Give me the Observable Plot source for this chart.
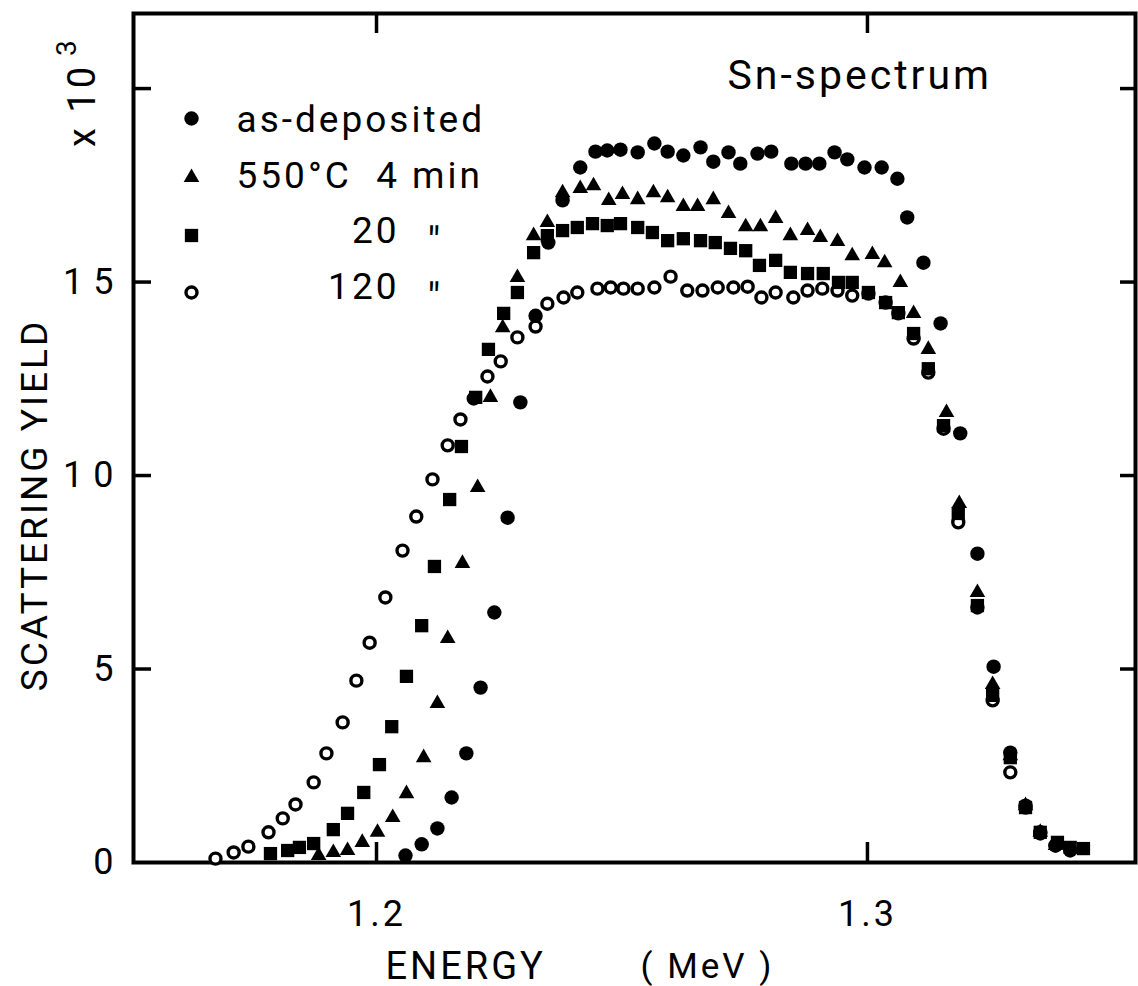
<!DOCTYPE html>
<html><head><meta charset="utf-8">
<script src="https://cdn.jsdelivr.net/npm/d3@7"></script>
<script src="https://cdn.jsdelivr.net/npm/@observablehq/plot@0.6"></script>
<style>
html,body{margin:0;padding:0;background:#fff;overflow:hidden;}
#chart svg{display:block;}
#chart text{letter-spacing:3px;}
#chart g[aria-label="y-axis tick label"] text{letter-spacing:10px;}
</style></head><body><div id="chart"></div>
<script>
// ---- data (energy in MeV, scattering yield in units of 10^3 counts) ----
const asDepE = [1.2059,1.2092,1.2124,1.2153,1.2183,1.2212,1.2240,1.2267,1.2293,1.2324,1.2350,1.2379,1.2415,1.2446,1.2470,1.2497,1.2532,1.2566,1.2593,1.2625,1.2660,1.2686,1.2717,1.2741,1.2776,1.2804,1.2845,1.2874,1.2902,1.2933,1.2959,1.2994,1.3029,1.3061,1.3081,1.3114,1.3149,1.3189,1.3224,1.3257,1.3291,1.3322,1.3352,1.3383,1.3413];
const asDepY = [0.18,0.47,0.88,1.68,2.82,4.52,6.46,8.91,11.89,14.13,16.02,17.11,17.96,18.37,18.40,18.42,18.35,18.58,18.37,18.27,18.48,18.11,18.35,18.06,18.32,18.37,18.06,18.06,18.06,18.35,18.17,17.96,17.96,17.67,16.67,15.50,13.93,11.09,7.98,5.06,2.84,1.47,0.78,0.44,0.31];

const min4E = [1.1882,1.1912,1.1941,1.1971,1.2002,1.2033,1.2061,1.2096,1.2124,1.2145,1.2175,1.2206,1.2232,1.2257,1.2287,1.2320,1.2348,1.2379,1.2415,1.2442,1.2473,1.2501,1.2532,1.2564,1.2593,1.2625,1.2654,1.2686,1.2717,1.2752,1.2782,1.2813,1.2843,1.2878,1.2904,1.2939,1.2969,1.3010,1.3035,1.3067,1.3094,1.3124,1.3161,1.3187,1.3224,1.3255,1.3291,1.3322,1.3352,1.3383];
const min4Y = [0.18,0.26,0.31,0.52,0.78,1.16,1.78,2.71,4.11,5.79,7.73,9.69,12.02,13.82,15.12,16.20,16.54,17.31,17.42,17.49,17.11,17.26,17.13,17.31,17.18,16.95,16.95,17.13,16.77,16.43,16.43,16.64,16.20,16.33,16.15,16.05,15.68,15.71,15.50,14.99,14.19,13.26,11.63,9.28,6.98,4.60,2.76,1.47,0.78,0.44];

const min20E = [1.1784,1.1819,1.1843,1.1872,1.1912,1.1941,1.1974,1.2006,1.2031,1.2061,1.2092,1.2118,1.2149,1.2173,1.2202,1.2228,1.2259,1.2287,1.2320,1.2348,1.2379,1.2409,1.2440,1.2470,1.2497,1.2532,1.2562,1.2593,1.2625,1.2660,1.2690,1.2721,1.2752,1.2780,1.2813,1.2843,1.2878,1.2910,1.2941,1.2969,1.3002,1.3037,1.3063,1.3094,1.3124,1.3155,1.3185,1.3224,1.3255,1.3291,1.3322,1.3352,1.3387,1.3413,1.3440];
const min20Y = [0.23,0.31,0.39,0.49,0.85,1.27,1.81,2.53,3.51,4.81,6.12,7.65,9.38,10.75,12.02,13.26,14.19,14.73,15.76,16.20,16.33,16.41,16.51,16.46,16.51,16.41,16.28,16.07,16.12,16.07,16.02,15.87,15.81,15.43,15.56,15.25,15.22,15.22,14.99,14.99,14.73,14.47,14.21,13.67,12.76,11.29,9.02,6.64,4.32,2.71,1.42,0.78,0.52,0.39,0.36];

const min120E = [1.1672,1.1709,1.1739,1.1780,1.1809,1.1835,1.1872,1.1898,1.1931,1.1959,1.1986,1.2018,1.2053,1.2081,1.2114,1.2145,1.2171,1.2198,1.2226,1.2253,1.2287,1.2324,1.2348,1.2381,1.2409,1.2450,1.2477,1.2503,1.2532,1.2566,1.2599,1.2633,1.2664,1.2695,1.2727,1.2756,1.2784,1.2813,1.2849,1.2878,1.2908,1.2939,1.2969,1.3002,1.3037,1.3063,1.3094,1.3124,1.3155,1.3185,1.3224,1.3255,1.3291,1.3322,1.3352,1.3383];
const min120Y = [0.10,0.26,0.41,0.78,1.14,1.50,2.07,2.82,3.62,4.70,5.68,6.85,8.06,8.94,9.90,10.78,11.45,11.99,12.56,12.95,13.57,13.85,14.44,14.60,14.73,14.83,14.86,14.83,14.83,14.86,15.14,14.78,14.78,14.86,14.86,14.88,14.60,14.73,14.60,14.78,14.83,14.78,14.65,14.70,14.47,14.19,13.54,12.66,11.21,8.79,6.59,4.19,2.33,1.42,0.75,0.44];

const xTickValues = [1.2, 1.3];
const yTickValues = [5, 10, 15, 20];
const yTickLabels = [0, 5, 10, 15];
const legendLabels = ["as-deposited", "550°C\u00a0\u00a04\u00a0min", "20", "120"];
const dittoMark = "\u2033";
const plotTitle = "Sn-spectrum";
const xTitle = ["ENERGY", "( MeV )"];
const yTitle = "SCATTERING YIELD";
const yUnit = ["x 10", "3"];

// ---- build tables ----
const toRows = (E, Y) => E.map((e, i) => ({energy: e, yield: Y[i]}));
const dAs = toRows(asDepE, asDepY);
const d4 = toRows(min4E, min4Y);
const d20 = toRows(min20E, min20Y);
const d120 = toRows(min120E, min120Y);

// ---- layout ----
const W = 1138, H = 986, ML = 133, MR = 3, MT = 13, MB = 124;
const plotW = W - ML - MR, plotH = H - MT - MB;

// marker styles
const sty = [
  {symbol: "circle", r: 7.2, fill: "black"},
  {symbol: "triangle", r: 5.8, fill: "black"},
  {symbol: "square", r: 7.5, fill: "black"},
  {symbol: "circle", r: 5.5, fill: "white", stroke: "black", strokeWidth: 3.4}
];

const FONT = "Roboto, 'DejaVu Sans', sans-serif";
const markerDy = [105, 164, 222, 279];
const textDy = [107, 163, 218, 274];

const legendMarks = [];
legendLabels.forEach((lab, i) => {
  legendMarks.push(Plot.dot([lab], {frameAnchor: "top-left", dx: 58, dy: markerDy[i], ...sty[i]}));
  if (i < 2) {
    legendMarks.push(Plot.text([lab], {text: d => d, frameAnchor: "top-left", dx: 103, dy: textDy[i], textAnchor: "start", lineAnchor: "middle", fontSize: 37}));
  } else {
    legendMarks.push(Plot.text([lab], {text: d => d, frameAnchor: "top-left", dx: 266, dy: textDy[i], textAnchor: "end", lineAnchor: "middle", fontSize: 37}));
    legendMarks.push(Plot.text([dittoMark], {text: d => d, frameAnchor: "top-left", dx: 302, dy: textDy[i] + 12, textAnchor: "middle", lineAnchor: "middle", fontSize: 40}));
  }
});

const TL = 18; // inward tick length
const chart = Plot.plot({
  width: W, height: H,
  marginLeft: ML, marginRight: MR, marginTop: MT, marginBottom: MB,
  x: {domain: [1.1505, 1.3546]},
  y: {domain: [0, 21.94]},
  style: {fontFamily: FONT, fontSize: "36px", color: "black", background: "white", overflow: "visible"},
  marks: [
    // inward ticks (rules inset to a short length)
    Plot.ruleY(yTickValues, {y: d => d, insetRight: plotW - TL, strokeWidth: 3.5}),
    Plot.ruleY(yTickValues, {y: d => d, insetLeft: plotW - 15, strokeWidth: 3.5}),
    Plot.ruleX(xTickValues, {x: d => d, insetBottom: plotH - 20, strokeWidth: 3.5}),
    Plot.ruleX(xTickValues, {x: d => d, insetTop: plotH - 20, strokeWidth: 3.5}),
    // tick labels
    Plot.axisY(yTickLabels, {anchor: "left", tickSize: 0, tickPadding: 10, fontSize: 36, label: null}),
    Plot.axisX(xTickValues, {anchor: "bottom", tickSize: 0, tickPadding: 38, fontSize: 36, label: null, tickFormat: d3.format(".1f")}),
    Plot.frame({strokeWidth: 4}),
    // data
    Plot.dot(d120, {x: "energy", y: "yield", ...sty[3]}),
    Plot.dot(d20, {x: "energy", y: "yield", ...sty[2]}),
    Plot.dot(d4, {x: "energy", y: "yield", ...sty[1]}),
    Plot.dot(dAs, {x: "energy", y: "yield", ...sty[0]}),
    // titles
    Plot.text([plotTitle], {text: d => d, frameAnchor: "top-left", dx: 594, dy: 62, textAnchor: "start", lineAnchor: "middle", fontSize: 41}),
    Plot.text([xTitle[0]], {text: d => d, frameAnchor: "bottom-left", dx: 252, dy: 104, textAnchor: "start", lineAnchor: "middle", fontSize: 38}),
    Plot.text([xTitle[1]], {text: d => d, frameAnchor: "bottom-left", dx: 507, dy: 104, textAnchor: "start", lineAnchor: "middle", fontSize: 35}),
    Plot.text([yTitle], {text: d => d, frameAnchor: "left", dx: -98, dy: 67, rotate: -90, textAnchor: "middle", lineAnchor: "middle", fontSize: 37}),
    Plot.text([yUnit[0]], {text: d => d, frameAnchor: "top-left", dx: -51, dy: 92, rotate: -90, textAnchor: "middle", lineAnchor: "middle", fontSize: 38}),
    Plot.text([yUnit[1]], {text: d => d, frameAnchor: "top-left", dx: -66, dy: 33, rotate: -90, textAnchor: "middle", lineAnchor: "middle", fontSize: 28}),
    ...legendMarks
  ]
});
document.getElementById("chart").appendChild(chart);
</script>
</body></html>
